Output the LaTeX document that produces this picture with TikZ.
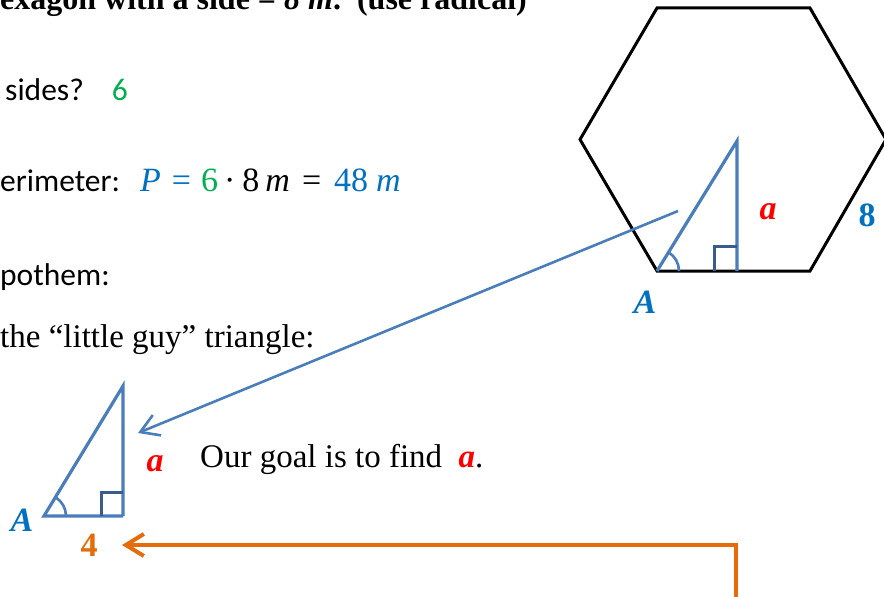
\documentclass[tikz,border=0pt]{standalone}
\usepackage{fontspec}
\setmainfont{Liberation Serif}
\newfontfamily\calibri{Carlito}
\usetikzlibrary{arrows.meta}
\definecolor{lineblue}{HTML}{4A7EBB}
\definecolor{sqblue}{HTML}{385D8A}
\definecolor{txtblue}{HTML}{0070C0}
\definecolor{txtgreen}{HTML}{00B050}
\definecolor{txtred}{HTML}{FF0000}
\definecolor{txtorange}{HTML}{E46C0A}
\tikzset{
  tri/.style={lineblue, line width=3.2bp, line join=miter},
  rightsq/.style={sqblue, line width=3bp},
  lbl/.style={font=\fontsize{34bp}{40bp}\selectfont\bfseries, inner sep=0pt},
  body/.style={font=\fontsize{33bp}{39bp}\selectfont, anchor=base west, inner sep=0pt},
  calbody/.style={font=\fontsize{31.5bp}{38bp}\selectfont\calibri, anchor=base west, inner sep=0pt}
}

\begin{document}
\begin{tikzpicture}[x=1bp, y=-1bp]
  \useasboundingbox (0,0) rectangle (884,597);
  % text on the left
  \node[body, font=\fontsize{32bp}{38bp}\selectfont\bfseries] (title) at (0,10) {exagon with a side = \textit{8 m}.\ \ (use radical)};
  \node[calbody] (nsides) at (5,101) {sides?\hspace{28bp}\textcolor{txtgreen}{6}};
  \node[calbody] (perim) at (0,192) {erimeter:};
  \node[body, font=\fontsize{34bp}{40bp}\selectfont] (pformula) at (140,192) {\textcolor{txtblue}{\textit{P}\hspace{11bp}=}\hspace{10bp}\textcolor{txtgreen}{6}\hspace{6bp}·\hspace{7bp}8\hspace{6bp}\textit{m}\hspace{12bp}=\hspace{13bp}\textcolor{txtblue}{48\hspace{8bp}\textit{m}}};
  \node[calbody] (apoth) at (0,285) {pothem:};
  \node[body] (little) at (0,347) {the “little guy” triangle:};
  \node[body] (goal) at (200,467) {Our goal is to find\ \ \textcolor{txtred}{\bfseries\itshape a}.};
  % hexagon
  \draw[line width=3bp, line join=miter] (657,8) -- (810,8) -- (886,139.5) -- (810,271) -- (657,271) -- (580,139.5) -- cycle;
  \coordinate (hA) at (657,271);
  \coordinate (hT) at (737,141);
  \coordinate (hR) at (737,271);
  \draw[tri] (hA) -- (hT) -- (hR);
  \draw[rightsq] (714,271) |- (737,246);
  \draw[tri, line width=2.6bp] ([xshift=22bp]hA) arc[start angle=0, end angle=58, radius=22bp];
  \node[lbl, txtred] (ahex) at (768,212) {\itshape a};
  \node[lbl, txtblue] (side) at (867,215) {8};
  \node[lbl, txtblue] (Ahex) at (645,302) {\itshape A};
  % little guy
  \coordinate (sA) at (44,516);
  \coordinate (sT) at (123,386);
  \coordinate (sR) at (123,516);
  \draw[tri] (sR) -- (sA) -- (sT) -- (sR);
  \draw[rightsq] (101,516) |- (123,492);
  \draw[tri, line width=2.6bp] ([xshift=22bp]sA) arc[start angle=0, end angle=58, radius=22bp];
  \node[lbl, txtred] (asmall) at (155,464) {\itshape a};
  \node[lbl, txtblue] (Asmall) at (22,520) {\itshape A};
  \node[lbl, txtorange] (four) at (89,545) {4};
  % arrows
  \coordinate (bluestart) at (678,211);
  \coordinate (blueend) at (138,433);
  \draw[lineblue, line width=2.6bp, -{Straight Barb[length=18bp, width=22bp]}] (bluestart) -- (blueend);
  \coordinate (orangestart) at (736,600);
  \coordinate (orangeend) at (122,545);
  \draw[txtorange, line width=4bp, -{Straight Barb[length=18bp, width=22bp]}] (orangestart) |- (orangeend);
\end{tikzpicture}
\end{document}
